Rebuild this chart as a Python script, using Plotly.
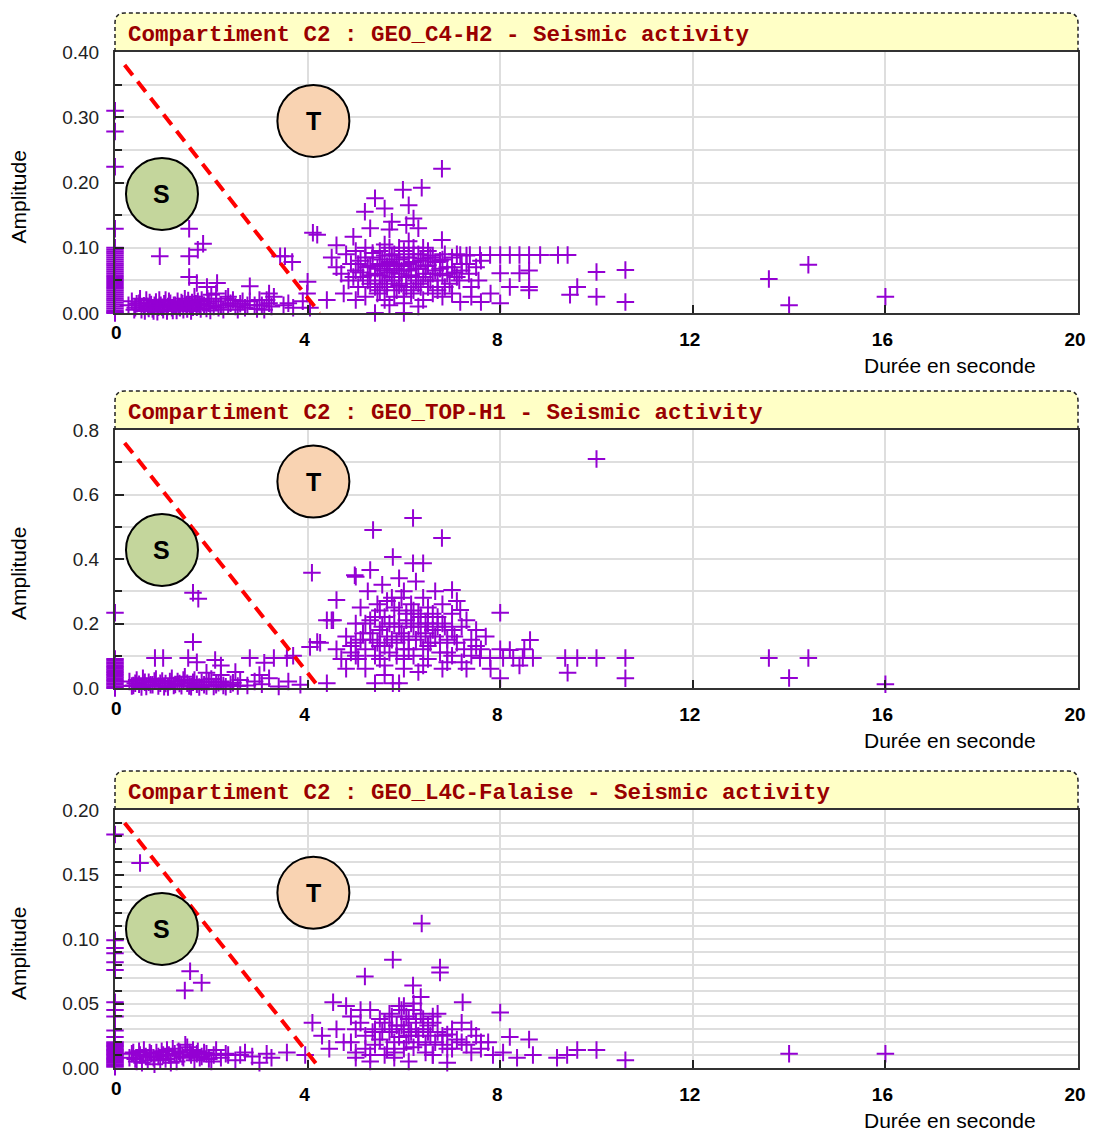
import plotly.graph_objects as go

# ---------------------------------------------------------------------------
# Seismic events: (duration in s, amplitude), compartment C2, three geophones
# ---------------------------------------------------------------------------

# GEO_C4-H2
c4h2_events = [
    # events with zero duration
    (0, 0.31), (0, 0.278), (0, 0.224), (0, 0.129), (0, 0.10), (0, 0.097),
    (0, 0.094), (0, 0.091), (0, 0.088), (0, 0.085), (0, 0.082), (0, 0.079),
    (0, 0.076), (0, 0.073), (0, 0.07), (0, 0.067), (0, 0.064), (0, 0.061),
    (0, 0.058), (0, 0.055), (0, 0.052), (0, 0.049), (0, 0.046), (0, 0.043),
    (0, 0.04), (0, 0.037), (0, 0.034), (0, 0.031), (0, 0.028), (0, 0.025),
    (0, 0.022), (0, 0.019), (0, 0.016), (0, 0.013), (0, 0.01), (0, 0.007),
    (0, 0.004), (0, 0.002), (0, 0.0),
    # short, weak events
    (0.28, 0.012), (0.35, 0.018), (0.4, 0.005), (0.42, 0.008), (0.45, 0.014),
    (0.5, 0.015), (0.52, 0.022), (0.55, 0.005), (0.6, 0.011), (0.62, 0.003),
    (0.65, 0.02), (0.68, 0.01), (0.7, 0.007), (0.72, 0.016), (0.75, 0.013),
    (0.78, 0.006), (0.8, 0.003), (0.82, 0.012), (0.85, 0.017), (0.88, 0.002),
    (0.9, 0.009), (0.92, 0.02), (0.95, 0.012), (0.98, 0.009), (1.0, 0.005),
    (1.02, 0.014), (1.05, 0.02), (1.08, 0.003), (1.1, 0.01), (1.12, 0.018),
    (1.15, 0.015), (1.18, 0.008), (1.2, 0.004), (1.22, 0.012), (1.25, 0.012),
    (1.28, 0.004), (1.3, 0.018), (1.32, 0.01), (1.35, 0.008), (1.38, 0.016),
    (1.4, 0.014), (1.42, 0.005), (1.45, 0.022), (1.48, 0.012), (1.5, 0.006),
    (1.52, 0.019), (1.55, 0.011), (1.58, 0.003), (1.6, 0.016), (1.62, 0.009),
    (1.65, 0.025), (1.68, 0.014), (1.7, 0.009), (1.72, 0.018), (1.75, 0.013),
    (1.78, 0.006), (1.8, 0.02), (1.85, 0.012), (1.9, 0.007), (1.92, 0.022),
    (1.95, 0.015), (1.98, 0.004), (2.0, 0.028), (2.05, 0.01), (2.1, 0.018),
    (2.15, 0.008), (2.2, 0.012), (2.25, 0.005), (2.3, 0.022), (2.35, 0.012),
    (2.4, 0.015), (2.45, 0.02), (2.5, 0.01), (2.55, 0.005), (2.6, 0.014),
    (2.65, 0.018), (2.7, 0.008), (2.75, 0.012), (2.8, 0.018), (2.9, 0.012),
    (2.95, 0.006), (3.0, 0.02), (3.05, 0.012), (3.1, 0.005), (3.15, 0.02),
    (3.2, 0.015), (3.25, 0.01), (3.3, 0.025), (3.5, 0.012), (3.7, 0.008),
    (3.9, 0.018), (4.05, 0.008),
    # scattered short events
    (0.93, 0.087), (1.54, 0.129), (1.54, 0.087), (1.83, 0.106), (1.72, 0.097),
    (1.54, 0.055), (1.7, 0.046), (1.91, 0.04), (2.12, 0.046), (2.1, 0.03),
    (2.35, 0.025), (2.8, 0.041), (3.2, 0.03), (3.43, 0.087), (3.53, 0.087),
    (3.68, 0.078), (4.0, 0.048), (4.11, 0.123), (4.2, 0.12), (4.4, 0.02),
    (3.99, 0.03), (3.6, 0.015),
    # main group
    (6.79, 0.221), (5.98, 0.189), (6.37, 0.192), (5.4, 0.176), (5.19, 0.155),
    (6.1, 0.165), (6.2, 0.145), (6.05, 0.135), (5.75, 0.14), (5.7, 0.128),
    (6.79, 0.112), (4.6, 0.104), (4.95, 0.117), (5.6, 0.16), (5.3, 0.13),
    (6.3, 0.13),
    (4.5, 0.085), (4.6, 0.07), (4.7, 0.06), (4.8, 0.09), (4.85, 0.05),
    (4.9, 0.075), (4.95, 0.055), (5.0, 0.095), (5.0, 0.065), (5.05, 0.04),
    (5.05, 0.075), (5.1, 0.08), (5.1, 0.062), (5.15, 0.055), (5.2, 0.1),
    (5.2, 0.085), (5.25, 0.07), (5.25, 0.05), (5.3, 0.045), (5.3, 0.072),
    (5.3, 0.058), (5.35, 0.085), (5.35, 0.092), (5.4, 0.06), (5.4, 0.04),
    (5.45, 0.03), (5.45, 0.068), (5.5, 0.095), (5.5, 0.075), (5.5, 0.058),
    (5.5, 0.035), (5.55, 0.05), (5.55, 0.082), (5.6, 0.088), (5.6, 0.065),
    (5.6, 0.045), (5.6, 0.105), (5.65, 0.04), (5.65, 0.072), (5.7, 0.1),
    (5.7, 0.078), (5.7, 0.062), (5.7, 0.012), (5.75, 0.055), (5.75, 0.088),
    (5.8, 0.09), (5.8, 0.068), (5.8, 0.05), (5.8, 0.025), (5.85, 0.035),
    (5.85, 0.075), (5.9, 0.082), (5.9, 0.06), (5.9, 0.042), (5.9, 0.1),
    (5.95, 0.045), (5.95, 0.065), (6.0, 0.095), (6.0, 0.072), (6.0, 0.085),
    (6.0, 0.015), (6.05, 0.055), (6.05, 0.04), (6.1, 0.085), (6.1, 0.065),
    (6.1, 0.075), (6.1, 0.11), (6.15, 0.03), (6.15, 0.058), (6.2, 0.1),
    (6.2, 0.078), (6.2, 0.09), (6.2, 0.035), (6.25, 0.05), (6.25, 0.068),
    (6.3, 0.09), (6.3, 0.068), (6.3, 0.045), (6.3, 0.01), (6.35, 0.04),
    (6.35, 0.08), (6.4, 0.083), (6.4, 0.055), (6.4, 0.1), (6.45, 0.06),
    (6.45, 0.072), (6.5, 0.095), (6.5, 0.073), (6.5, 0.04), (6.55, 0.05),
    (6.55, 0.085), (6.6, 0.088), (6.6, 0.06), (6.6, 0.03), (6.65, 0.065),
    (6.65, 0.078), (6.7, 0.035), (6.7, 0.05), (6.75, 0.08), (6.75, 0.068),
    (6.8, 0.058), (6.8, 0.082), (6.85, 0.09), (6.85, 0.04), (6.9, 0.07),
    (6.9, 0.06), (6.95, 0.045), (7.0, 0.085), (7.0, 0.07), (7.05, 0.062),
    (7.1, 0.09), (7.1, 0.055), (7.15, 0.05), (7.2, 0.075), (7.2, 0.065),
    (7.3, 0.088), (7.3, 0.075), (7.35, 0.06), (7.4, 0.04), (7.5, 0.07),
    (7.55, 0.05), (7.6, 0.08), (5.2, 0.025), (5.6, 0.02), (6.0, 0.025),
    (6.4, 0.02), (5.0, 0.02), (6.8, 0.025), (7.0, 0.03), (5.4, 0.0),
    (6.0, 0.0), (4.75, 0.03),
    # longer events
    (7.17, 0.089), (7.37, 0.089), (7.58, 0.089), (7.79, 0.089), (8.0, 0.089),
    (8.2, 0.089), (8.4, 0.089), (8.6, 0.089), (8.83, 0.089), (9.2, 0.089),
    (9.4, 0.089), (8.0, 0.061), (8.4, 0.061), (8.6, 0.065), (8.2, 0.04),
    (8.6, 0.04), (8.6, 0.035), (8.0, 0.015), (7.17, 0.017), (7.6, 0.017),
    (9.45, 0.028), (9.6, 0.04), (10.0, 0.063), (10.0, 0.025), (10.6, 0.066),
    (10.6, 0.017), (7.8, 0.03), (7.4, 0.025),
    (13.58, 0.052), (14.0, 0.012), (14.4, 0.074), (16.0, 0.025),
]

# GEO_TOP-H1
toph1_events = [
    (0, 0.233), (0, 0.09), (0, 0.085), (0, 0.08), (0, 0.075), (0, 0.07),
    (0, 0.065), (0, 0.06), (0, 0.055), (0, 0.05), (0, 0.045), (0, 0.04),
    (0, 0.035), (0, 0.03), (0, 0.025), (0, 0.02), (0, 0.015), (0, 0.01),
    (0, 0.005), (0, 0.0),
    (0.3, 0.02), (0.35, 0.006), (0.38, 0.008), (0.42, 0.015), (0.45, 0.025),
    (0.5, 0.012), (0.55, 0.003), (0.58, 0.03), (0.62, 0.018), (0.65, 0.005),
    (0.7, 0.018), (0.74, 0.01), (0.78, 0.01), (0.82, 0.022), (0.85, 0.028),
    (0.9, 0.006), (0.94, 0.015), (0.98, 0.022), (1.02, 0.004), (1.05, 0.014),
    (1.1, 0.003), (1.14, 0.02), (1.18, 0.03), (1.22, 0.008), (1.25, 0.011),
    (1.3, 0.02), (1.34, 0.014), (1.38, 0.007), (1.42, 0.025), (1.45, 0.035),
    (1.5, 0.015), (1.54, 0.006), (1.58, 0.004), (1.62, 0.018), (1.65, 0.025),
    (1.7, 0.012), (1.75, 0.003), (1.8, 0.018), (1.85, 0.01), (1.9, 0.006),
    (1.95, 0.02), (2.0, 0.028), (2.05, 0.005), (2.1, 0.01), (2.15, 0.016),
    (2.2, 0.02), (2.25, 0.008), (2.3, 0.004), (2.4, 0.012), (2.45, 0.016),
    (2.55, 0.006), (2.6, 0.025), (2.75, 0.008), (2.9, 0.02), (3.05, 0.012),
    (3.2, 0.03), (3.4, 0.005), (3.6, 0.02), (3.85, 0.01),
    (0.83, 0.093), (1.0, 0.093), (1.62, 0.295), (1.73, 0.277), (1.62, 0.143),
    (1.52, 0.093), (1.7, 0.08), (2.08, 0.087), (2.2, 0.07), (1.9, 0.047),
    (2.8, 0.093), (3.1, 0.078), (3.3, 0.093), (3.57, 0.093), (3.7, 0.1),
    (4.05, 0.127), (4.2, 0.143), (4.09, 0.357), (4.4, 0.21), (4.5, 0.21),
    (4.6, 0.273), (4.4, 0.015), (2.5, 0.05), (3.0, 0.04), (2.2, 0.04),
    (5.36, 0.49), (6.19, 0.527), (6.79, 0.465), (5.77, 0.406), (6.19, 0.387),
    (6.4, 0.387), (4.98, 0.35), (5.3, 0.366), (7.0, 0.304), (8.0, 0.233),
    (7.17, 0.242), (4.53, 0.21), (4.26, 0.14), (8.62, 0.149), (8.2, 0.118),
    (5.0, 0.345),
    (4.6, 0.12), (4.7, 0.09), (4.8, 0.16), (4.9, 0.11), (4.9, 0.13),
    (5.0, 0.2), (5.0, 0.14), (5.0, 0.1), (5.05, 0.09), (5.1, 0.25),
    (5.1, 0.15), (5.15, 0.17), (5.2, 0.12), (5.2, 0.2), (5.25, 0.3),
    (5.3, 0.21), (5.3, 0.17), (5.35, 0.15), (5.4, 0.1), (5.4, 0.22),
    (5.45, 0.26), (5.45, 0.14), (5.5, 0.18), (5.5, 0.13), (5.5, 0.24),
    (5.5, 0.09), (5.55, 0.32), (5.55, 0.19), (5.6, 0.22), (5.6, 0.13),
    (5.65, 0.16), (5.65, 0.27), (5.7, 0.11), (5.7, 0.2), (5.75, 0.28),
    (5.75, 0.15), (5.8, 0.2), (5.8, 0.25), (5.85, 0.14), (5.85, 0.1),
    (5.9, 0.34), (5.9, 0.24), (5.9, 0.19), (5.95, 0.17), (5.95, 0.28),
    (6.0, 0.12), (6.0, 0.3), (6.0, 0.16), (6.0, 0.09), (6.05, 0.21),
    (6.05, 0.23), (6.1, 0.15), (6.1, 0.12), (6.15, 0.26), (6.15, 0.2),
    (6.2, 0.19), (6.2, 0.1), (6.2, 0.24), (6.25, 0.33), (6.25, 0.15),
    (6.3, 0.23), (6.3, 0.19), (6.35, 0.16), (6.35, 0.22), (6.4, 0.28),
    (6.4, 0.12), (6.45, 0.2), (6.45, 0.17), (6.5, 0.13), (6.5, 0.25),
    (6.5, 0.2), (6.5, 0.09), (6.55, 0.14), (6.6, 0.18), (6.6, 0.23),
    (6.65, 0.3), (6.65, 0.16), (6.7, 0.22), (6.7, 0.19), (6.75, 0.14),
    (6.75, 0.11), (6.8, 0.26), (6.8, 0.2), (6.85, 0.19), (6.9, 0.11),
    (6.9, 0.15), (6.9, 0.08), (7.0, 0.23), (7.0, 0.18), (7.0, 0.1),
    (7.05, 0.16), (7.1, 0.27), (7.1, 0.14), (7.2, 0.19), (7.25, 0.12),
    (7.3, 0.21), (7.3, 0.06), (7.4, 0.15), (7.4, 0.1), (7.5, 0.18),
    (7.5, 0.13), (7.6, 0.12), (7.7, 0.16),
    (5.2, 0.06), (5.6, 0.07), (6.0, 0.06), (6.4, 0.07), (6.8, 0.06),
    (7.2, 0.08), (4.8, 0.06), (5.4, 0.015), (5.77, 0.015), (5.9, 0.015),
    (5.6, 0.04), (6.3, 0.05),
    (7.58, 0.093), (7.79, 0.093), (8.06, 0.093), (8.27, 0.093), (8.47, 0.093),
    (8.68, 0.093), (9.35, 0.093), (9.6, 0.093), (10.0, 0.093), (10.6, 0.093),
    (8.0, 0.12), (8.5, 0.12), (9.4, 0.047), (10.6, 0.03), (8.0, 0.03),
    (7.8, 0.06), (8.4, 0.07),
    (10.0, 0.71), (13.58, 0.093), (14.0, 0.031), (14.4, 0.093), (16.0, 0.012),
]

# GEO_L4C-Falaise
l4c_events = [
    (0, 0.181), (0, 0.099), (0, 0.093), (0, 0.089), (0, 0.082), (0, 0.076),
    (0, 0.051), (0, 0.045), (0, 0.040), (0, 0.029), (0, 0.024), (0, 0.02),
    (0, 0.019), (0, 0.018), (0, 0.017), (0, 0.016), (0, 0.015), (0, 0.014),
    (0, 0.013), (0, 0.012), (0, 0.011), (0, 0.01), (0, 0.009), (0, 0.008),
    (0, 0.007), (0, 0.006), (0, 0.005), (0, 0.004), (0, 0.003), (0, 0.002),
    (0, 0.001),
    (0.52, 0.159), (1.56, 0.075), (1.45, 0.06), (1.8, 0.066),
    (0.3, 0.008), (0.35, 0.011), (0.38, 0.012), (0.42, 0.007), (0.45, 0.005),
    (0.5, 0.013), (0.52, 0.01), (0.56, 0.004), (0.6, 0.014), (0.64, 0.009),
    (0.68, 0.006), (0.72, 0.012), (0.75, 0.011), (0.8, 0.008), (0.82, 0.003),
    (0.86, 0.012), (0.9, 0.009), (0.94, 0.006), (0.97, 0.013), (1.0, 0.01),
    (1.05, 0.007), (1.08, 0.014), (1.12, 0.01), (1.16, 0.004), (1.2, 0.015),
    (1.24, 0.011), (1.28, 0.005), (1.32, 0.013), (1.35, 0.012), (1.4, 0.009),
    (1.42, 0.008), (1.46, 0.018), (1.5, 0.016), (1.55, 0.012), (1.58, 0.01),
    (1.62, 0.014), (1.65, 0.006), (1.7, 0.011), (1.72, 0.013), (1.76, 0.008),
    (1.8, 0.009), (1.85, 0.012), (1.9, 0.011), (1.95, 0.007), (2.0, 0.005),
    (2.05, 0.01), (2.1, 0.014), (2.2, 0.008), (2.3, 0.011), (2.35, 0.01),
    (2.5, 0.006), (2.6, 0.01), (2.7, 0.012), (2.85, 0.009), (3.0, 0.004),
    (3.15, 0.011), (3.25, 0.008),
    (3.57, 0.012), (3.95, 0.01), (4.1, 0.035), (4.53, 0.051), (5.19, 0.071),
    (5.77, 0.084), (6.37, 0.112), (6.75, 0.078), (6.75, 0.074), (6.19, 0.064),
    (7.22, 0.051), (8.0, 0.043), (8.2, 0.024), (8.6, 0.022),
    (4.3, 0.025), (4.45, 0.015), (4.6, 0.03), (4.75, 0.02), (4.8, 0.048),
    (4.9, 0.04), (4.9, 0.02), (5.0, 0.012), (5.0, 0.03), (5.1, 0.035),
    (5.1, 0.045), (5.2, 0.025), (5.2, 0.015), (5.3, 0.045), (5.3, 0.01),
    (5.35, 0.028), (5.4, 0.018), (5.4, 0.03), (5.5, 0.038), (5.5, 0.022),
    (5.55, 0.028), (5.6, 0.01), (5.6, 0.035), (5.65, 0.015), (5.7, 0.042),
    (5.7, 0.028), (5.75, 0.03), (5.75, 0.04), (5.8, 0.02), (5.8, 0.012),
    (5.85, 0.033), (5.9, 0.048), (5.9, 0.024), (5.95, 0.033), (5.95, 0.045),
    (6.0, 0.015), (6.0, 0.03), (6.0, 0.048), (6.05, 0.04), (6.05, 0.02),
    (6.1, 0.025), (6.1, 0.038), (6.15, 0.028), (6.2, 0.045), (6.2, 0.016),
    (6.2, 0.05), (6.25, 0.03), (6.25, 0.035), (6.3, 0.02), (6.3, 0.025),
    (6.35, 0.055), (6.35, 0.042), (6.4, 0.038), (6.4, 0.03), (6.45, 0.012),
    (6.45, 0.018), (6.5, 0.028), (6.5, 0.033), (6.55, 0.025), (6.6, 0.035),
    (6.6, 0.04), (6.6, 0.01), (6.65, 0.02), (6.7, 0.042), (6.7, 0.028),
    (6.8, 0.025), (6.8, 0.018), (6.9, 0.015), (6.9, 0.026), (7.0, 0.03),
    (7.0, 0.015), (7.1, 0.022), (7.2, 0.035), (7.2, 0.02), (7.3, 0.018),
    (7.4, 0.012), (7.4, 0.03), (7.5, 0.025), (7.6, 0.015), (7.6, 0.02),
    (7.75, 0.02), (5.3, 0.005), (5.8, 0.008), (6.1, 0.005), (6.6, 0.01),
    (5.0, 0.008), (6.9, 0.004),
    (7.85, 0.01), (8.06, 0.012), (8.35, 0.008), (8.68, 0.01), (9.18, 0.008),
    (9.39, 0.01), (9.6, 0.014), (10.0, 0.014), (10.6, 0.006),
    (14.0, 0.011), (16.0, 0.011),
]

# Panel definitions: (title, events, y max, label step, grid step, tick format)
PANELS = [
    ("Compartiment C2 : GEO_C4-H2 - Seismic activity", c4h2_events, 0.4, 0.1, 0.05, ".2f"),
    ("Compartiment C2 : GEO_TOP-H1 - Seismic activity", toph1_events, 0.8, 0.2, 0.1, ".1f"),
    ("Compartiment C2 : GEO_L4C-Falaise - Seismic activity", l4c_events, 0.2, 0.05, 0.01, ".2f"),
]

# S / T boundary line, as fractions of each panel's amplitude range
BOUNDARY_X = [0.2, 4.25]
BOUNDARY_FRAC = [0.95, 0.0]

# S and T region badges: (label, duration, fraction of amplitude range)
BADGES_FRAC = [
    [("S", 0.976, 0.456), ("T", 4.12, 0.736)],
    [("S", 0.976, 0.535), ("T", 4.12, 0.800)],
    [("S", 0.976, 0.539), ("T", 4.12, 0.679)],
]
BADGE_FILL = {"S": "#c4d69c", "T": "#f9d3b2"}

X_TICKS = [0, 4, 8, 12, 16, 20]

# ---------------------------------------------------------------------------
W, H = 1095, 1131
ML, MR, MT, MB = 115, 17, 52, 63
PLOT_W = W - ML - MR
PLOT_H = H - MT - MB
PANEL_PX = [(52, 313), (430, 688), (810, 1068)]  # top / bottom of each plot
TITLE_H = 39

PURPLE = "#9400d3"
FONT = "Liberation Sans"


def py_to_paper(py):
    return (H - MB - py) / PLOT_H


def px_to_paper(px):
    return (px - ML) / PLOT_W


fig = go.Figure()
shapes = []
annotations = []

for i, (title, events, ymax, dlab, dgrid, fmt) in enumerate(PANELS):
    n = "" if i == 0 else str(i + 1)
    top, bot = PANEL_PX[i]
    dom = [py_to_paper(bot), py_to_paper(top)]
    xs = [e[0] for e in events]
    ys = [e[1] for e in events]

    fig.add_trace(go.Scatter(
        x=xs, y=ys, mode="markers", xaxis="x" + n, yaxis="y" + n,
        cliponaxis=False, showlegend=False, hoverinfo="x+y",
        marker=dict(symbol="cross-thin", size=12.5,
                    line=dict(width=2, color=PURPLE), color=PURPLE),
    ))

    # the origin label sits a little higher than the others
    fig.layout["xaxis" + n] = dict(
        domain=[0, 1], anchor="y" + n, range=[0, 20], automargin=False,
        tickvals=X_TICKS, ticktext=[""] + [str(v) for v in X_TICKS[1:]],
        ticks="inside", ticklen=8, tickwidth=2, tickcolor="#222",
        showline=True, linecolor="#333", linewidth=2, mirror=True,
        showgrid=True, gridcolor="#dedede", gridwidth=2,
        zeroline=False, ticklabelstandoff=8, ticklabelshift=-3,
        tickfont=dict(family=FONT, size=19, color="#000", weight="bold"),
    )
    annotations.append(dict(
        text=str(X_TICKS[0]), xref="x" + n, yref="paper",
        x=X_TICKS[0], y=py_to_paper(bot + 20), xshift=1,
        showarrow=False, xanchor="center", yanchor="middle",
        font=dict(family=FONT, size=19, color="#000", weight="bold"),
    ))

    fig.layout["yaxis" + n] = dict(
        domain=dom, anchor="x" + n, range=[0, ymax], automargin=False,
        tick0=0, dtick=dlab, tickformat=fmt,
        ticks="inside", ticklen=9, tickwidth=2, tickcolor="#222",
        showline=True, linecolor="#333", linewidth=2, mirror=True,
        showgrid=True, gridcolor="#dedede", gridwidth=2,
        minor=dict(dtick=dgrid, tick0=0, ticks="inside", ticklen=7,
                   tickwidth=2, tickcolor="#222", showgrid=True,
                   gridcolor="#dedede", gridwidth=2),
        zeroline=False, ticklabelstandoff=10,
        tickfont=dict(family=FONT, size=19, color="#222"),
    )

    # title banner above the plot
    x0, x1 = 0.0, 1.0
    yb = py_to_paper(top)
    yt = py_to_paper(top - TITLE_H)
    rx, ry = 10 / PLOT_W, 10 / PLOT_H
    shapes.append(dict(
        type="path", xref="paper", yref="paper", layer="below",
        path=(f"M{x0},{yb} L{x0},{yt - ry} Q{x0},{yt} {x0 + rx},{yt} "
              f"L{x1 - rx},{yt} Q{x1},{yt} {x1},{yt - ry} L{x1},{yb} Z"),
        fillcolor="#ffffc6", line=dict(width=0),
    ))
    shapes.append(dict(
        type="path", xref="paper", yref="paper",
        path=(f"M{x0},{yb} L{x0},{yt - ry} Q{x0},{yt} {x0 + rx},{yt} "
              f"L{x1 - rx},{yt} Q{x1},{yt} {x1},{yt - ry} L{x1},{yb}"),
        line=dict(color="#222", width=1.5, dash="4px,3px"),
    ))
    annotations.append(dict(
        text=title, xref="paper", yref="paper",
        x=px_to_paper(126), y=py_to_paper(top - 17), xanchor="left", yanchor="middle",
        showarrow=False,
        font=dict(family="Liberation Mono", size=22.5, color="#990000", weight="bold"),
    ))

    # S / T separation line
    shapes.append(dict(
        type="line", xref="x" + n, yref="y" + n,
        x0=BOUNDARY_X[0], y0=BOUNDARY_FRAC[0] * ymax,
        x1=BOUNDARY_X[1], y1=BOUNDARY_FRAC[1] * ymax,
        line=dict(color="#ff0000", width=4, dash="13px,8px"),
    ))

    # S / T badges
    for lab, bx, bf in BADGES_FRAC[i]:
        by = bf * ymax
        shapes.append(dict(
            type="circle", xref="x" + n, yref="y" + n,
            xsizemode="pixel", ysizemode="pixel", xanchor=bx, yanchor=by,
            x0=-36, x1=36, y0=-36, y1=36,
            fillcolor=BADGE_FILL[lab], line=dict(color="#000", width=2),
        ))
        annotations.append(dict(
            text=lab, xref="x" + n, yref="y" + n, x=bx, y=by,
            showarrow=False,
            font=dict(family=FONT, size=25, color="#000", weight="bold"),
        ))

    # axis titles
    annotations.append(dict(
        text="Amplitude", xref="paper", yref="paper",
        x=px_to_paper(18), y=py_to_paper((top + bot) / 2 + 15),
        textangle=-90, showarrow=False, xanchor="center", yanchor="middle",
        font=dict(family=FONT, size=21, color="#000"),
    ))
    annotations.append(dict(
        text="Durée en seconde", xref="paper", yref="paper",
        x=px_to_paper(950), y=py_to_paper(bot + 52),
        showarrow=False, xanchor="center", yanchor="middle",
        font=dict(family=FONT, size=21, color="#000"),
    ))

fig.update_layout(
    width=W, height=H,
    margin=dict(l=ML, r=MR, t=MT, b=MB, autoexpand=False),
    paper_bgcolor="white", plot_bgcolor="white",
    shapes=shapes, annotations=annotations,
    showlegend=False,
)

fig.write_html("out.html")
